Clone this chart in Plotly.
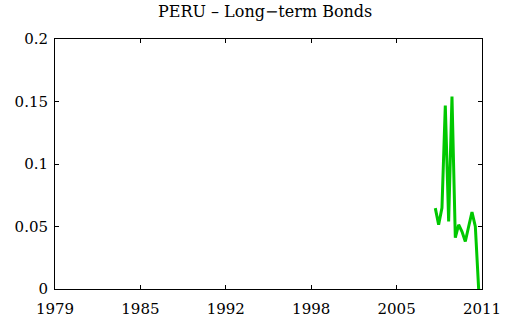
import numpy as np
import plotly.graph_objects as go

# Quarterly long-term bond yields, Peru
quarters = [2007.50, 2007.75, 2008.00, 2008.25, 2008.50, 2008.75, 2009.00,
            2009.25, 2009.50, 2009.75, 2010.00, 2010.25, 2010.50, 2010.75]
yields = [0.0647, 0.0514, 0.0650, 0.1468, 0.0540, 0.1540, 0.0410,
          0.0514, 0.0460, 0.0380, 0.0500, 0.0615, 0.0500, 0.0000]

x_start, x_end = 1979, 2011
x_tickvals = list(np.linspace(x_start, x_end, 6))
x_ticktext = [str(int(round(v))) for v in x_tickvals]
y_tickvals = [0, 0.05, 0.1, 0.15, 0.2]
y_ticktext = ["0", "0.05", "0.1", "0.15", "0.2"]

font_family = "DejaVu Serif, serif"

fig = go.Figure()
fig.add_trace(go.Scatter(
    x=quarters, y=yields, mode="lines",
    line=dict(color="#00c800", width=3),
    showlegend=False,
))

axis_common = dict(
    showline=True, linecolor="black", linewidth=1,
    mirror="ticks", ticks="inside", ticklen=4, tickcolor="black",
    showgrid=False, zeroline=False, automargin=False,
    tickfont=dict(family=font_family, size=15, color="black"),
)

fig.update_layout(
    width=505, height=320,
    margin=dict(l=55, r=23, t=39, b=31),
    paper_bgcolor="white", plot_bgcolor="white",
    title=dict(text="PERU \u2013 Long\u2212term Bonds", x=0.525, xanchor="center",
               y=0.963, yanchor="middle", automargin=False,
               font=dict(family=font_family, size=16, color="black")),
    xaxis=dict(range=[x_start, x_end], tickvals=x_tickvals, ticktext=x_ticktext,
               ticklabelstandoff=6, **axis_common),
    yaxis=dict(range=[0, 0.2], tickvals=y_tickvals, ticktext=y_ticktext,
               ticklabelstandoff=3, **axis_common),
)

fig.write_html("out.html")
